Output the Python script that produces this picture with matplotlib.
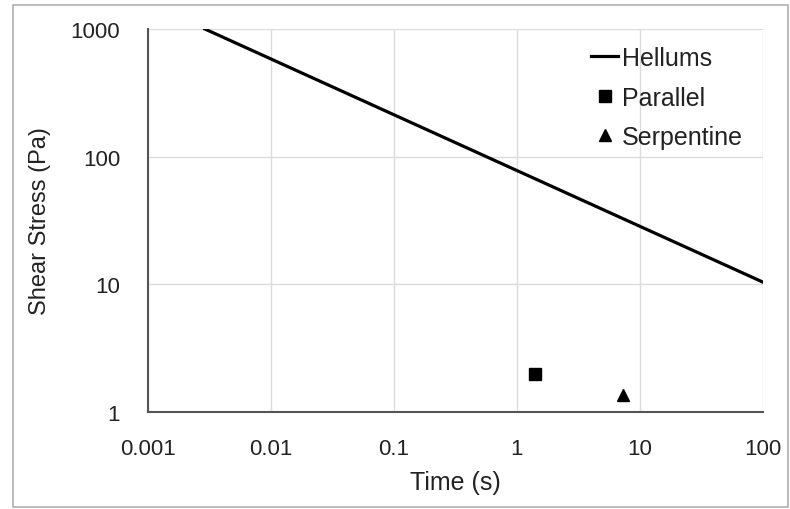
import numpy as np
import matplotlib.pyplot as plt
from matplotlib.patches import Rectangle

plt.rcParams['font.family'] = ['Liberation Sans', 'DejaVu Sans']

# Hellums line endpoints (time s, shear stress Pa)
hellums_t = [0.0029, 100]
hellums_tau = [1000, 10.4]

parallel_t = [1.4]
parallel_tau = [2.0]

serpentine_t = [7.3]
serpentine_tau = [1.36]

x_ticks = [0.001, 0.01, 0.1, 1, 10, 100]
x_labels = ['0.001', '0.01', '0.1', '1', '10', '100']
y_ticks = [1, 10, 100, 1000]
y_labels = ['1', '10', '100', '1000']

fig = plt.figure(figsize=(7.9, 5.1), dpi=100)
ax = fig.add_axes([148 / 790, 1 - 413 / 510, (763 - 148) / 790, (413 - 30) / 510])

# outer frame like the original screenshot
fig.patches.append(Rectangle((13 / 790, 2 / 510), 775 / 790, 502 / 510,
                             transform=fig.transFigure, fill=False,
                             edgecolor='#b0b0b0', linewidth=1.2))

ax.plot(hellums_t, hellums_tau, color='black', linewidth=2.3, label='Hellums')
ax.plot(parallel_t, parallel_tau, linestyle='none', marker='s', markersize=9,
        color='black', label='Parallel')
ax.plot(serpentine_t, serpentine_tau, linestyle='none', marker='^', markersize=9,
        color='black', label='Serpentine')

ax.set_xscale('log')
ax.set_yscale('log')
ax.set_xlim(0.001, 100)
ax.set_ylim(1, 1000)
ax.set_xticks(x_ticks)
ax.set_xticklabels(x_labels)
ax.set_yticks(y_ticks)
ax.set_yticklabels(y_labels)
ax.minorticks_off()
ax.tick_params(length=0, labelsize=16, colors='#222222')
ax.tick_params(axis='x', pad=19)
ax.tick_params(axis='y', pad=20)

ax.grid(True, color='#dcdcdc', linewidth=1)
ax.set_axisbelow(True)
for side in ['top', 'right']:
    ax.spines[side].set_visible(False)
for side in ['left', 'bottom']:
    ax.spines[side].set_color('#555555')
    ax.spines[side].set_linewidth(1.5)

ax.set_xlabel('Time (s)', fontsize=18, color='#222222', labelpad=8)
ax.set_ylabel('Shear Stress (Pa)', fontsize=17, color='#222222', labelpad=14)

leg = ax.legend(loc='upper right', bbox_to_anchor=(1 - 5 / 615, 1 - 2 / 383),
                frameon=False, fontsize=18,
                handlelength=1.1, handletextpad=0.15, labelspacing=0.62,
                borderaxespad=0.2)
for t in leg.get_texts():
    t.set_color('#222222')

fig.savefig('out.png', dpi=100)
